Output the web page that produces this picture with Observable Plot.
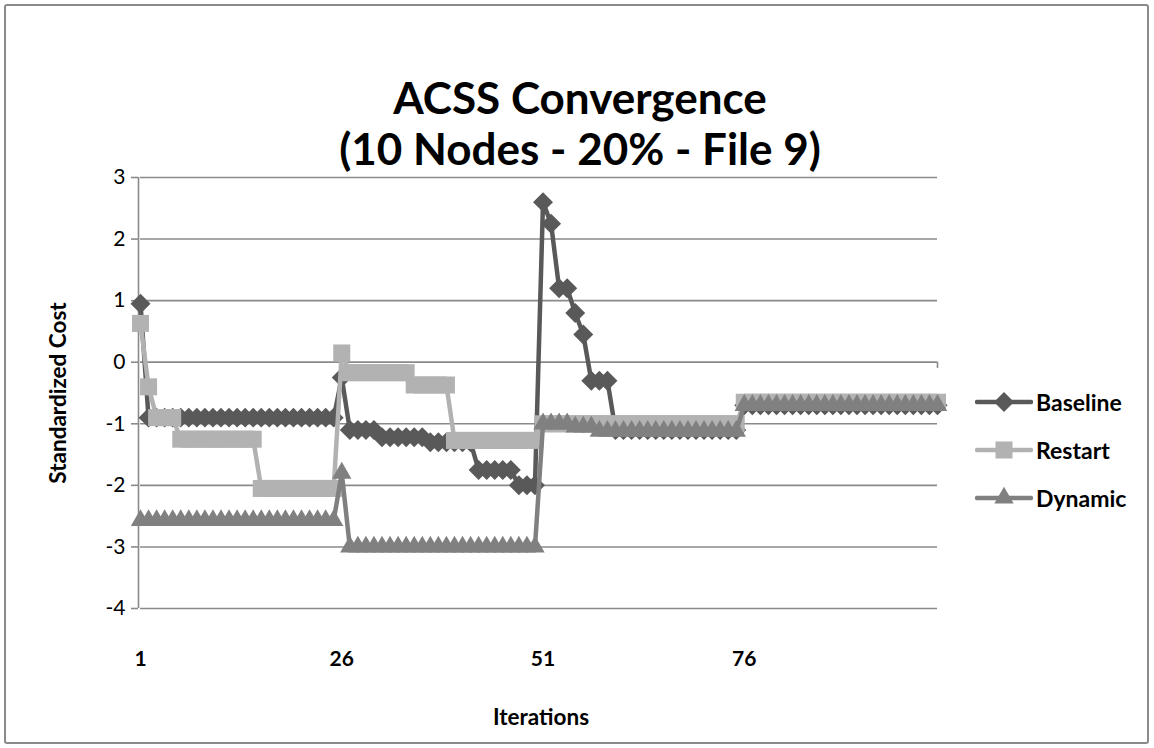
<!DOCTYPE html>
<html>
<head>
<meta charset="utf-8">
<script src="https://cdn.jsdelivr.net/npm/d3@7"></script>
<script src="https://cdn.jsdelivr.net/npm/@observablehq/plot@0.6"></script>
<style>
  html, body { margin: 0; padding: 0; background: #fff; }
  #wrap { position: relative; width: 1154px; height: 748px; overflow: hidden; font-family: Lato, "Open Sans", sans-serif; color: #000; }
  #frame { position: absolute; left: 4px; top: 4px; width: 1145px; height: 740px; border: 2px solid #8a8a8a; border-radius: 3px; box-sizing: border-box; pointer-events: none; }
  #title { position: absolute; left: 0; width: 1160px; top: 72px; text-align: center; font-weight: bold; font-size: 44px; line-height: 51px; }
  #chart { position: absolute; left: 0; top: 0; }
  #legend { position: absolute; left: 975px; top: 0; }
  .item { position: absolute; left: 0; display: flex; align-items: center; font-weight: bold; font-size: 23px; white-space: nowrap; }
  .item svg { display: block; margin-right: 3px; }
</style>
</head>
<body>
<div id="wrap">
  <div id="chart"></div>
  <div id="title">ACSS Convergence<br>(10 Nodes - 20% - File 9)</div>
  <div id="legend"></div>
  <div id="frame"></div>
</div>
<script>
// ---- data ----
const seriesNames = ["Baseline", "Restart", "Dynamic"];
const seriesColors = ["#595959", "#b2b2b2", "#808080"];
const seriesSymbols = ["diamond2", "square", "triangle"];

const baseline = [
  0.95, -0.9, -0.9, -0.9, -0.9, -0.9, -0.9, -0.9, -0.9, -0.9,
  -0.9, -0.9, -0.9, -0.9, -0.9, -0.9, -0.9, -0.9, -0.9, -0.9,
  -0.9, -0.9, -0.9, -0.9, -0.9, -0.25, -1.1, -1.1, -1.1, -1.1,
  -1.22, -1.22, -1.22, -1.22, -1.22, -1.22, -1.3, -1.3, -1.3, -1.3,
  -1.3, -1.3, -1.75, -1.75, -1.75, -1.75, -1.75, -2.0, -2.0, -2.0,
  2.6, 2.25, 1.2, 1.2, 0.8, 0.45, -0.3, -0.3, -0.3, -1.1,
  -1.1, -1.1, -1.1, -1.1, -1.1, -1.1, -1.1, -1.1, -1.1, -1.1,
  -1.1, -1.1, -1.1, -1.1, -1.1, -0.7, -0.7, -0.7, -0.7, -0.7,
  -0.7, -0.7, -0.7, -0.7, -0.7, -0.7, -0.7, -0.7, -0.7, -0.7,
  -0.7, -0.7, -0.7, -0.7, -0.7, -0.7, -0.7, -0.7, -0.7, -0.7
];
const restart = [
  0.63, -0.4, -0.9, -0.9, -0.9, -1.25, -1.25, -1.25, -1.25, -1.25,
  -1.25, -1.25, -1.25, -1.25, -1.25, -2.05, -2.05, -2.05, -2.05, -2.05,
  -2.05, -2.05, -2.05, -2.05, -2.05, 0.15, -0.17, -0.17, -0.17, -0.17,
  -0.17, -0.17, -0.17, -0.17, -0.37, -0.37, -0.37, -0.37, -0.37, -1.27,
  -1.27, -1.27, -1.27, -1.27, -1.27, -1.27, -1.27, -1.27, -1.27, -1.27,
  -1.0, -1.0, -1.0, -1.0, -1.0, -1.0, -1.0, -1.0, -1.0, -1.0,
  -1.0, -1.0, -1.0, -1.0, -1.0, -1.0, -1.0, -1.0, -1.0, -1.0,
  -1.0, -1.0, -1.0, -1.0, -1.0, -0.65, -0.65, -0.65, -0.65, -0.65,
  -0.65, -0.65, -0.65, -0.65, -0.65, -0.65, -0.65, -0.65, -0.65, -0.65,
  -0.65, -0.65, -0.65, -0.65, -0.65, -0.65, -0.65, -0.65, -0.65, -0.65
];
const dynamic = [
  -2.57, -2.57, -2.57, -2.57, -2.57, -2.57, -2.57, -2.57, -2.57, -2.57,
  -2.57, -2.57, -2.57, -2.57, -2.57, -2.57, -2.57, -2.57, -2.57, -2.57,
  -2.57, -2.57, -2.57, -2.57, -2.57, -1.8, -3.0, -3.0, -3.0, -3.0,
  -3.0, -3.0, -3.0, -3.0, -3.0, -3.0, -3.0, -3.0, -3.0, -3.0,
  -3.0, -3.0, -3.0, -3.0, -3.0, -3.0, -3.0, -3.0, -3.0, -3.0,
  -1.0, -1.0, -1.0, -1.0, -1.05, -1.05, -1.05, -1.12, -1.12, -1.12,
  -1.12, -1.12, -1.12, -1.12, -1.12, -1.12, -1.12, -1.12, -1.12, -1.12,
  -1.12, -1.12, -1.12, -1.12, -1.12, -0.7, -0.7, -0.7, -0.7, -0.7,
  -0.7, -0.7, -0.7, -0.7, -0.7, -0.7, -0.7, -0.7, -0.7, -0.7,
  -0.7, -0.7, -0.7, -0.7, -0.7, -0.7, -0.7, -0.7, -0.7, -0.7
];
const yTicks = [-4, -3, -2, -1, 0, 1, 2, 3];
const xTickLabels = [1, 26, 51, 76];
const xAxisEndTicks = [100];
const yLabel = "Standardized Cost";
const xLabel = "Iterations";

// ---- build table ----
const seriesValues = [baseline, restart, dynamic];
const rows = [];
seriesValues.forEach((vals, s) => vals.forEach((v, i) => rows.push({series: seriesNames[s], iteration: i + 1, value: v})));

const markerR = {"Baseline": 9, "Restart": 9.6, "Dynamic": 7.2};

const seriesMarks = [];
seriesNames.forEach((name, s) => {
  const d = rows.filter(r => r.series === name);
  seriesMarks.push(Plot.line(d, {x: "iteration", y: "value", stroke: seriesColors[s], strokeWidth: 4.5, strokeLinejoin: "round"}));
  seriesMarks.push(Plot.dot(d, {x: "iteration", y: "value", symbol: () => seriesSymbols[s], fill: seriesColors[s], stroke: "none", r: markerR[name]}));
});

const font = "Lato, 'Open Sans', sans-serif";
const chart = Plot.plot({
  width: 1154,
  height: 748,
  marginLeft: 140,
  marginRight: 217,
  marginTop: 177,
  marginBottom: 140,
  style: {fontFamily: font, background: "transparent", color: "#000"},
  x: {domain: [1, 100], axis: null},
  y: {domain: [-4, 3], axis: null},
  symbol: {type: "identity"},
  marks: [
    Plot.gridY(yTicks, {stroke: "#8a8a8a", strokeOpacity: 1, strokeWidth: 1.6}),
    Plot.ruleX([1], {y1: -4, y2: 3, dx: -2, stroke: "#8a8a8a", strokeWidth: 1.6}),
    Plot.ruleY([0], {stroke: "#8a8a8a", strokeWidth: 1.6}),
    Plot.ruleX(xAxisEndTicks, {x: d => d, y1: 0, y2: -0.1, stroke: "#8a8a8a", strokeWidth: 1.6}),
    Plot.axisY(yTicks, {anchor: "left", tickSize: 7, tickPadding: 6, dx: -2, fontSize: 21, tickFormat: d => String(d), stroke: "#8a8a8a", strokeWidth: 1.6, fill: "#000", label: null}),
    Plot.axisX(xTickLabels, {anchor: "bottom", tickSize: 0, tickPadding: 43, fontSize: 21, fontWeight: "bold", tickFormat: d => String(d), fill: "#000", label: null}),
    ...seriesMarks,
    Plot.text([yLabel], {text: d => d, frameAnchor: "left", textAnchor: "middle", lineAnchor: "middle", dx: -82, rotate: -90, fontSize: 22.5, fontWeight: "bold", fill: "#000"}),
    Plot.text([xLabel], {text: d => d, frameAnchor: "bottom", textAnchor: "middle", lineAnchor: "middle", dy: 109, dx: 2, fontSize: 22.5, fontWeight: "bold", fill: "#000"})
  ]
});
document.getElementById("chart").appendChild(chart);

// ---- legend ----
const legend = document.getElementById("legend");
const legendY = [402, 450, 498];
seriesNames.forEach((name, s) => {
  const item = document.createElement("div");
  item.className = "item";
  item.style.top = (legendY[s] - 15) + "px";
  item.style.height = "30px";
  const sym = {diamond2: d3.symbolDiamond2, square: d3.symbolSquare, triangle: d3.symbolTriangle}[seriesSymbols[s]];
  const r = markerR[name];
  const path = d3.symbol(sym, Math.PI * r * r)();
  item.innerHTML = `<svg width="58" height="30"><line x1="2" y1="15" x2="56" y2="15" stroke="${seriesColors[s]}" stroke-width="4.5" stroke-linecap="round"/><path d="${path}" transform="translate(29,15)" fill="${seriesColors[s]}"/></svg><span>${name}</span>`;
  legend.appendChild(item);
});
</script>
</body>
</html>
